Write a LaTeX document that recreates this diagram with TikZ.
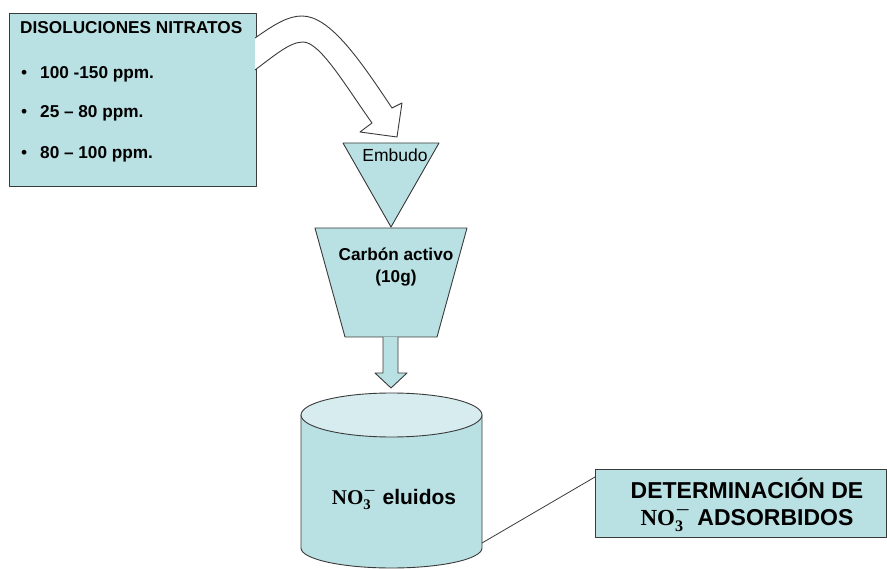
\documentclass[tikz,border=0pt]{standalone}
\usepackage{amsmath}
\usepackage[no-math]{fontspec}
\setmainfont{Liberation Sans}
\newfontfamily\libserif{Liberation Serif}
\definecolor{cyanfill}{HTML}{B9E0E3}
\definecolor{cyantop}{HTML}{D6ECEF}
\definecolor{edgegray}{HTML}{3A3A3A}
\tikzset{
  shapeedge/.style={draw=edgegray, line width=0.9pt, line join=round},
  panel/.style={shapeedge, fill=cyanfill, inner sep=0pt},
  boldtxt/.style={font=\fontsize{17.2}{19}\selectfont\bfseries, inner sep=0pt},
  bigtxt/.style={font=\fontsize{23}{27}\selectfont\bfseries, inner sep=0pt, align=center},
  midtxt/.style={font=\fontsize{21}{23}\selectfont\bfseries, inner sep=0pt},
  plaintxt/.style={font=\fontsize{17.5}{19}\selectfont, inner sep=0pt},
  link/.style={draw=edgegray, line width=0.8pt}
}
\newcommand{\nothree}{{\boldmath$\text{\libserif\bfseries NO}_{\text{\libserif\bfseries 3}}^{-}$}}
\begin{document}
\begin{tikzpicture}[x=1pt,y=-1pt]
\useasboundingbox (0,0) rectangle (887,569);
% source box
\node[panel, minimum width=247pt, minimum height=173pt, anchor=north west] (src) at (9,13) {};
\node[boldtxt, anchor=base west] (head) at (20,34) {DISOLUCIONES NITRATOS};
\node[plaintxt, anchor=base west] (b1) at (21,79) {•};
\node[plaintxt, anchor=base west] (b2) at (21,118) {•};
\node[plaintxt, anchor=base west] (b3) at (21,159) {•};
\node[boldtxt, anchor=base west] (t1) at (40,79) {100 -150 ppm.};
\node[boldtxt, anchor=base west] (t2) at (40,118) {25 – 80 ppm.};
\node[boldtxt, anchor=base west] (t3) at (40,159) {80 – 100 ppm.};
% curved block arrow
\path[shapeedge, fill=white] (255,38) .. controls (275,24) and (288,16) .. (302,16)
  .. controls (330,16) and (360,60) .. (392,108)
  -- (402,103) -- (397,137) -- (360,132) -- (372,123)
  .. controls (345,85) and (320,42) .. (303,42)
  .. controls (290,42) and (275,55) .. (255,70);
% funnel
\path[shapeedge, fill=cyanfill] (343,143) -- (439,143) -- (391,227) -- cycle;
\node[plaintxt, anchor=base] (emb) at (395,162) {Embudo};
% carbon trapezoid
\path[shapeedge, fill=cyanfill] (315,228) -- (467,228) -- (437,337) -- (345,337) -- cycle;
\node[boldtxt, anchor=base] (carb) at (396,261) {Carbón activo};
\node[boldtxt, anchor=base] (gram) at (396,283) {(10g)};
% down block arrow
\path[shapeedge, fill=cyanfill] (383,337) -- (383,373) -- (375,373) -- (391,388) -- (407,373) -- (398,373) -- (398,337);
% cylinder
\path[shapeedge, fill=cyanfill] (301,415) -- (301,548) arc[start angle=180, end angle=0, x radius=90.5, y radius=20] -- (482,415) -- cycle;
\path[shapeedge, fill=cyantop] (391.5,415) ellipse[x radius=90.5, y radius=22];
\node[midtxt, anchor=base] (elu) at (394,504) {\nothree\ eluidos};
\coordinate (cylr) at (482,543);
% result box
\node[panel, minimum width=291pt, minimum height=68pt, anchor=north west] (det) at (595,469) {};
\node[bigtxt, anchor=center] (dtxt) at (747,505) {DETERMINACIÓN DE\\\nothree\ ADSORBIDOS};
\draw[link] (cylr) -- ([yshift=-8pt]det.north west);
\end{tikzpicture}
\end{document}
